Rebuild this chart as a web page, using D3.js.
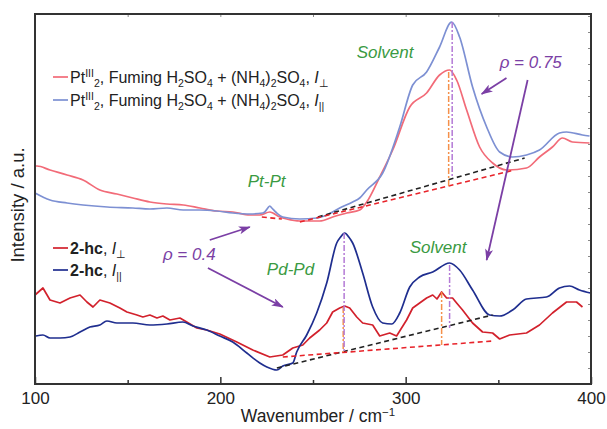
<!DOCTYPE html>
<html><head><meta charset="utf-8">
<script src="https://cdn.jsdelivr.net/npm/d3@7"></script>
<style>body{margin:0;background:#fff}svg{display:block}text{font-family:"Liberation Sans",Arial,Helvetica,sans-serif}</style>
</head><body><svg id="c" width="607" height="429"></svg>
<script>
// ---- data (wavenumber / cm-1, intensity a.u.) ----
const ptPerpWn = [100.0,101.1,108.1,117.3,125.9,135.0,144.2,152.8,162.0,171.2,180,189.0,198,206.7,215.9,221.3,226.7,232.1,235.8,242.9,253.6,260.6,268.2,275.2,279.0,286.0,293.0,302.2,311.3,318.3,323.7,327.5,332.9,339.9,346.9,354.4,365.2,372.2,379.2,384.6,390.0,399.2];
const ptPerpI  = [218,218,214,209,204,194,190,186,182,180,179,176,173,172,169,169,172,167,165,163,163,167,171,174,182,207,234,277,291,309,314,304,274,237,221,214,216,227,237,246,242,241];
const ptParWn = [100.0,108.1,117.3,125.9,139,152.8,162,171.2,180,189.0,198,206.7,215.9,222.9,224.0,225.6,226.7,227.8,229.9,233.7,242.9,252.0,257.4,264.4,271.4,275.2,279.0,287.6,296.8,303.8,311.3,318.3,324.8,329.1,336.1,343.7,350.7,357.7,365.2,372.2,383.0,386.8,395.4,399.2];
const ptParI  = [191,184,181,179,177,176,175,176,174,174,173,171,170,171,172,176,178,176,172,167,165,166,169,176,182,186,194,211,257,299,312,337,362,347,297,257,232,227,229,234,251,252,249,248];
const hcPerpWn = [100.0,104.3,108.1,113.5,118.9,124.3,128.0,131.3,135.0,140.4,145.8,149.6,155.0,158.2,162.0,165.8,169.0,172.8,178.2,181.9,187.3,192.7,199.7,208.9,217.5,226.7,233.7,239.1,244.5,248.2,253.6,257.4,260.6,264.4,267.1,269.8,273.6,276.8,282.2,286.0,291.4,295.1,300.5,303.8,311.3,314.6,316.9,319.4,322.1,325.3,327.5,330.7,336.1,341.5,346.9,350.7,356.1,365.2,372.2,379.2,386.8,392.2,395.4];
const hcPerpI  = [89,96,84,81,86,89,82,77,84,81,76,72,69,67,69,66,68,64,66,62,56,54,50,42,34,27,29,36,39,46,54,61,72,76,78,76,67,61,59,48,51,48,64,76,86,89,85,92,86,86,81,74,61,52,51,45,49,51,59,71,82,82,77];
const hcParWn = [100.5,104.3,108.1,113.5,118.9,124.3,129.6,135.0,138.8,144.2,152.8,162.0,171.2,179.8,185.2,192.7,199.7,206.7,214.3,221.3,225.1,230.5,233.7,239.1,241.2,246.6,252.0,257.4,262.8,264.9,267.1,269.3,271.4,276.8,282.2,287.6,292.5,296.8,302.2,307.5,314.6,323.7,329.1,336.1,345.3,350.7,357.7,365.2,376.0,383.0,388.4,393.8,399.7];
const hcParI  = [48,49,46,46,47,52,57,59,63,61,61,59,60,62,58,54,48,42,31,21,17,14,18,21,32,49,71,101,141,147,151,147,141,111,77,61,60,71,97,107,112,121,114,94,69,68,74,85,87,96,98,94,91];

// baselines [wn, I]
const ptBlackBase = [[252.6,167],[364.2,226]];
const ptRedBaseA  = [[222.4,167],[233.2,165]];
const ptRedBaseB  = [[242.9,162],[358.8,214]];
const hcBlackBase = [[230.5,16],[346.9,69]];
const hcRedBase   = [[233.7,27],[346.9,43]];
// vertical peak markers [wn, top, bottom, kind]
const peakMarks = [[323.2,312,197,"o"],[325.1,362,206,"p"],[266.3,77,32,"o"],[266.8,151,32,"p"],[319.4,92,39,"o"],[323.7,119,56,"p"]];
// annotations
const labels = [
  {t:"Solvent", wn:273.6, v:326, c:"#3a9a42"},
  {t:"Pt-Pt", wn:214.8, v:197, c:"#3a9a42"},
  {t:"Pd-Pd", wn:225.1, v:109, c:"#3a9a42"},
  {t:"Solvent", wn:302.2, v:131, c:"#3a9a42"},
  {t:"ρ = 0.75", wn:350.7, v:316, c:"#7b3fa5"},
  {t:"ρ = 0.4", wn:169.0, v:124, c:"#7b3fa5"}
];
const arrows = [
  [[354.4,306],[341.0,290]],
  [[365.8,304],[343.7,124]],
  [[194.3,144],[215.9,157]],
  [[193.3,116],[233.7,77]]
];
const xTicks = [100,200,300,400];
const xMinor = [150,250,350];

// ---- drawing ----
const svg = d3.select("#c");
const L=35,R=591,T=14,B=384;
const x = d3.scaleLinear().domain([100,400]).range([L,R]);
const y = d3.scaleLinear().domain([0,370]).range([B,T]);

const defs = svg.append("defs");
defs.append("marker").attr("id","ah").attr("viewBox","0 0 12 8").attr("refX",11).attr("refY",4)
  .attr("markerWidth",12).attr("markerHeight",8).attr("markerUnits","userSpaceOnUse").attr("orient","auto")
  .append("path").attr("d","M0,0 L12,4 L0,8 L3,4 Z").attr("fill","#7b3fa5");

const line = d3.line().x(d=>x(d[0])).y(d=>y(d[1]));
const smooth = d3.line().x(d=>x(d[0])).y(d=>y(d[1])).curve(d3.curveMonotoneX);
const zip = (a,b)=>a.map((v,i)=>[v,b[i]]);

const series = [
  {d:zip(ptPerpWn,ptPerpI), c:"#f26b78", g:smooth},
  {d:zip(ptParWn,ptParI), c:"#7d90d3", g:smooth},
  {d:zip(hcPerpWn,hcPerpI), c:"#d2212c", g:line},
  {d:zip(hcParWn,hcParI), c:"#1f2e8f", g:smooth}
];
series.forEach(s=>{
  svg.append("path").attr("d",s.g(s.d)).attr("fill","none").attr("stroke",s.c)
    .attr("stroke-width",1.7).attr("stroke-linejoin","round");
});

[[ptBlackBase,"#222"],[ptRedBaseA,"#e8232a"],[ptRedBaseB,"#e8232a"],[hcBlackBase,"#222"],[hcRedBase,"#e8232a"]]
.forEach(([d,c])=>{
  svg.append("path").attr("d",line(d)).attr("fill","none").attr("stroke",c)
    .attr("stroke-width",1.6).attr("stroke-dasharray","5,3.5");
});

peakMarks.forEach(m=>{
  svg.append("line").attr("x1",x(m[0])).attr("x2",x(m[0])).attr("y1",y(m[1])).attr("y2",y(m[2]))
    .attr("stroke", m[3]==="o"?"#f5904a":"#b47ad6").attr("stroke-width",1.5)
    .attr("stroke-dasharray","6,2,2,2");
});

arrows.forEach(a=>{
  svg.append("line").attr("x1",x(a[0][0])).attr("y1",y(a[0][1])).attr("x2",x(a[1][0])).attr("y2",y(a[1][1]))
    .attr("stroke","#7b3fa5").attr("stroke-width",1.8).attr("marker-end","url(#ah)");
});

labels.forEach(l=>{
  svg.append("text").attr("x",x(l.wn)).attr("y",y(l.v)).attr("fill",l.c)
    .attr("font-size",17).attr("font-style","italic").text(l.t);
});

// axes
const gx = svg.append("g").attr("transform",`translate(0,${B})`)
  .call(d3.axisBottom(x).tickValues(xTicks).tickFormat(d3.format("d")).tickSizeInner(-7).tickSizeOuter(0).tickPadding(8));
gx.select(".domain").remove();
gx.selectAll("line").attr("stroke","#333").attr("stroke-width",1.5);
gx.selectAll("text").attr("font-size",17).attr("fill","#222").attr("font-family","Liberation Sans, Arial, sans-serif");
const gm = svg.append("g").attr("transform",`translate(0,${B})`)
  .call(d3.axisBottom(x).tickValues(xMinor).tickFormat("").tickSizeInner(-4).tickSizeOuter(0));
gm.select(".domain").remove();
gm.selectAll("line").attr("stroke","#333").attr("stroke-width",1.5);
const gt = svg.append("g").attr("transform",`translate(0,${T})`)
  .call(d3.axisTop(x).tickValues(d3.range(150,400,50)).tickFormat("").tickSizeInner(-3).tickSizeOuter(0));
gt.select(".domain").remove();
gt.selectAll("line").attr("stroke","#888").attr("stroke-width",1);
const gr = svg.append("g").attr("transform",`translate(${R},0)`)
  .call(d3.axisRight(y).tickValues(d3.range(16,370,16)).tickFormat("").tickSizeInner(-3).tickSizeOuter(0));
gr.select(".domain").remove();
gr.selectAll("line").attr("stroke","#888").attr("stroke-width",1);

svg.append("rect").attr("x",L).attr("y",T).attr("width",R-L).attr("height",B-T)
  .attr("fill","none").attr("stroke","#333").attr("stroke-width",2);

// axis titles
const xt = svg.append("text").attr("x",318).attr("y",422).attr("text-anchor","middle")
  .attr("font-size",17.5).attr("fill","#222");
xt.append("tspan").text("Wavenumber / cm");
xt.append("tspan").attr("font-size",11.5).attr("dy",-6).text("−1");
svg.append("text").attr("transform","translate(24,205) rotate(-90)").attr("text-anchor","middle")
  .attr("font-size",18.5).attr("fill","#222").text("Intensity / a.u.");

// legends
function ptLegend(yy,color,subSym){
  svg.append("line").attr("x1",53).attr("x2",68).attr("y1",yy).attr("y2",yy).attr("stroke",color).attr("stroke-width",1.7);
  const t = svg.append("text").attr("x",70).attr("y",yy+5.5).attr("font-size",16).attr("fill","#222");
  const parts = [["Pt",0],["III",-6],["2",10],[", Fuming H",-4],["2",4],["SO",-4],["4",4],[" + (NH",-4],["4",4],[")",-4],["2",4],["SO",-4],["4",4],[", ",-4]];
  parts.forEach(([s,dy])=>{
    const small = (s==="III"||/^[24]$/.test(s));
    t.append("tspan").attr("dy",dy).attr("font-size",small?10.5:16).text(s);
  });
  t.append("tspan").attr("font-style","italic").text("I");
  t.append("tspan").attr("dy",4).attr("font-size",10.5).text(subSym);
}
ptLegend(77,"#f26b78","⊥");
ptLegend(100,"#7d90d3","||");
function hcLegend(yy,color,subSym){
  svg.append("line").attr("x1",53).attr("x2",68).attr("y1",yy).attr("y2",yy).attr("stroke",color).attr("stroke-width",1.7);
  const t = svg.append("text").attr("x",70).attr("y",yy+5.5).attr("font-size",16).attr("fill","#222");
  t.append("tspan").attr("font-weight","bold").text("2-hc");
  t.append("tspan").text(", ");
  t.append("tspan").attr("font-style","italic").text("I");
  t.append("tspan").attr("dy",4).attr("font-size",10.5).text(subSym);
}
hcLegend(248,"#d2212c","⊥");
hcLegend(270,"#1f2e8f","||");
</script></body></html>
